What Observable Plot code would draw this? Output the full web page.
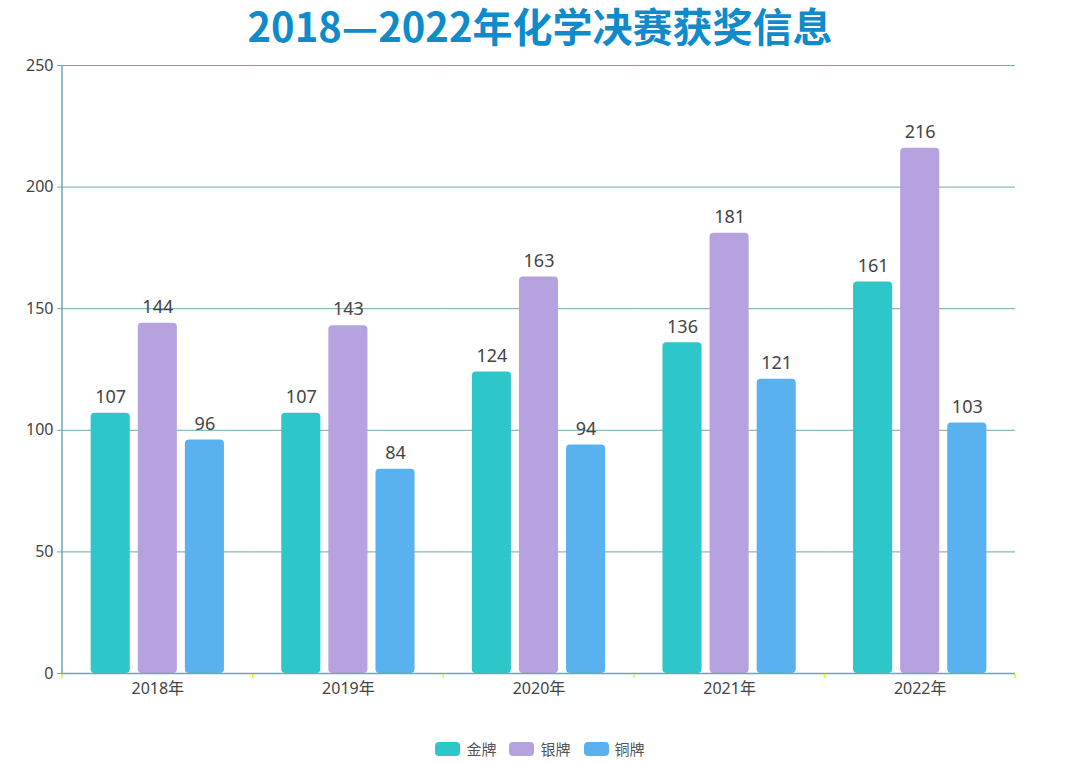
<!DOCTYPE html>
<html>
<head>
<meta charset="utf-8">
<script src="https://cdn.jsdelivr.net/npm/d3@7"></script>
<script src="https://cdn.jsdelivr.net/npm/@observablehq/plot@0.6"></script>
<style>
  html, body { margin: 0; padding: 0; background: #fff; width: 1080px; height: 763px; overflow: hidden; }
  body { font-family: "Noto Sans", "Noto Sans CJK SC", sans-serif; }
  #title { height: 48px; padding-top: 2px; line-height: 46px; text-align: center; font-size: 40px; font-weight: bold; color: #0f8bcc; font-family: "Noto Sans CJK SC", "Noto Sans", sans-serif; }
  #legend { display: flex; justify-content: center; align-items: center; gap: 13px; padding-top: 28px; font-size: 15px; color: #555; font-family: "Noto Sans CJK SC", sans-serif; }
  .item { display: flex; align-items: center; gap: 6px; }
  .sw { width: 25px; height: 14px; border-radius: 4px; display: inline-block; }
</style>
</head>
<body>
<div id="title">2018—2022年化学决赛获奖信息</div>
<div id="chart"></div>
<div id="legend"></div>
<script>
const years = ["2018年", "2019年", "2020年", "2021年", "2022年"];
const medals = ["金牌", "银牌", "铜牌"];
const gold = [107, 107, 124, 136, 161];
const silver = [144, 143, 163, 181, 216];
const bronze = [96, 84, 94, 121, 103];
const colors = ["#2ec7c9", "#b6a2de", "#5ab1ef"];
const yTicks = [0, 50, 100, 150, 200, 250];

const series = [gold, silver, bronze];
const data = [];
years.forEach((y, i) => medals.forEach((m, j) => data.push({year: y, medal: m, value: series[j][i]})));

const gridColor = "#6ea9b0";

const chart = Plot.plot({
  width: 1080,
  height: 660,
  marginTop: 15,
  marginBottom: 37,
  marginLeft: 62,
  marginRight: 65,
  style: {fontFamily: "'Noto Sans', 'Noto Sans CJK SC', sans-serif", fontSize: "16px", color: "#444"},
  fx: {domain: years, padding: 0, round: false, label: null},
  x: {domain: medals, paddingInner: 0.17, paddingOuter: 0.608, round: false, axis: null},
  y: {domain: [0, 250], label: null},
  color: {domain: medals, range: colors},
  marks: [
    Plot.gridY(yTicks, {stroke: gridColor, strokeOpacity: 1}),
    Plot.barY(data, {fx: "year", x: "medal", y: "value", fill: "medal", ry1: 4, rx1: 4, rx2: 4}),
    Plot.text(data, {fx: "year", x: "medal", y: "value", text: d => String(d.value), dy: -16, fill: "#444", fontSize: 18}),
    Plot.ruleY([0], {stroke: gridColor, strokeWidth: 1.5}),
    Plot.axisY(yTicks, {tickSize: 5, tickPadding: 4, stroke: gridColor, fill: "#444", fontSize: 16, label: null}),
    Plot.axisFx({anchor: "bottom", tickSize: 0, tickPadding: 9, fill: "#444", fontSize: 16, label: null})
  ]
});
document.getElementById("chart").appendChild(chart);

// y axis line and yellow boundary ticks, from the library's scales
const fx = chart.scale("fx");
const ys = chart.scale("y");
const svg = d3.select(chart.tagName.toLowerCase() === "svg" ? chart : chart.querySelector("svg"));
const y0 = ys.apply(0), yTop = ys.apply(250);
const left = fx.apply(years[0]);
svg.append("line").attr("x1", left).attr("x2", left).attr("y1", yTop).attr("y2", y0 + 0.5)
  .attr("stroke", gridColor).attr("stroke-width", 1.5);
const bounds = years.map(y => fx.apply(y)).concat([fx.apply(years[years.length - 1]) + fx.bandwidth]);
svg.selectAll("line.yt").data(bounds).join("line").attr("class", "yt")
  .attr("x1", d => d).attr("x2", d => d).attr("y1", y0 + 1).attr("y2", y0 + 5)
  .attr("stroke", "#f5f000").attr("stroke-width", 1.5);

const legend = document.getElementById("legend");
medals.forEach((m, i) => {
  const it = document.createElement("div");
  it.className = "item";
  it.innerHTML = `<span class="sw" style="background:${colors[i]}"></span><span>${m}</span>`;
  legend.appendChild(it);
});
</script>
</body>
</html>
